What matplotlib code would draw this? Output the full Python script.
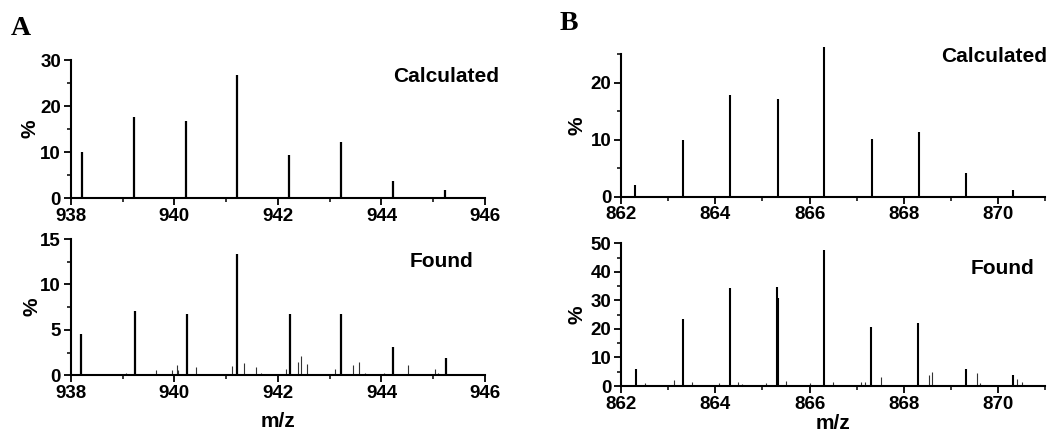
import matplotlib
matplotlib.use('Agg')
import matplotlib.pyplot as plt
from matplotlib.ticker import MultipleLocator

plt.rcParams['font.family'] = ['Liberation Sans', 'DejaVu Sans']
plt.rcParams['font.weight'] = 'bold'

# panel A, calculated isotope pattern
a_calc_mz = [938.21, 939.22, 940.22, 941.22, 942.22, 943.22, 944.23, 945.23]
a_calc_int = [10.0, 17.6, 16.8, 26.7, 9.3, 12.2, 3.8, 1.7]

# panel A, found spectrum (main peaks + small ones)
a_found_mz = [938.19, 939.25, 940.24, 941.22, 942.24, 943.22, 944.23, 945.25]
a_found_int = [4.55, 7.1, 6.75, 13.4, 6.75, 6.75, 3.08, 1.9]
a_minor_mz = [939.06, 939.64, 939.96, 940.06, 940.08, 940.41, 941.11, 941.35,
              941.57, 941.67, 942.15, 942.38, 942.45, 942.56, 942.74, 943.0,
              943.11, 943.45, 943.56, 943.68, 943.78, 944.04, 944.51, 945.03, 945.1]
a_minor_int = [0.3, 0.55, 0.6, 1.1, 0.6, 0.95, 1.0, 1.4,
               0.9, 0.25, 0.7, 1.5, 2.1, 1.2, 0.2, 0.2,
               0.65, 1.15, 1.5, 0.3, 0.2, 0.3, 1.1, 0.7, 0.3]

# panel B, calculated
b_calc_mz = [862.3, 863.3, 864.31, 865.32, 866.31, 867.33, 868.32, 869.33, 870.33]
b_calc_int = [2.05, 9.9, 17.8, 17.1, 26.3, 10.05, 11.3, 4.1, 1.2]

# panel B, found
b_found_mz = [862.32, 863.31, 864.31, 865.31, 865.33, 866.31, 867.31, 868.31, 869.32, 870.32]
b_found_int = [5.8, 23.5, 34.5, 34.7, 31.0, 47.7, 20.8, 22.0, 6.0, 4.0]
b_minor_mz = [862.5, 862.79, 863.03, 863.12, 863.5, 863.8, 864.08, 864.47, 864.56,
              864.7, 864.88, 865.07, 865.17, 865.5, 865.66, 865.8, 866.01, 866.5,
              866.58, 866.8, 867.1, 867.18, 867.52, 867.78, 868.14, 868.53, 868.61,
              869.06, 869.24, 869.56, 869.63, 869.7, 870.28, 870.4, 870.51]
b_minor_int = [1.0, 0.3, 0.5, 2.0, 1.5, 0.3, 1.0, 1.5, 0.8,
               0.3, 0.3, 1.0, 0.5, 1.8, 0.5, 0.4, 1.0, 1.5,
               0.5, 0.3, 1.5, 1.5, 3.0, 0.3, 0.5, 3.8, 4.8,
               0.3, 0.5, 4.5, 1.0, 0.3, 0.5, 2.5, 1.3]

fig = plt.figure(figsize=(10.54, 4.33), dpi=100)

ax_a1 = fig.add_axes([0.0671, 0.5427, 0.3931, 0.3187])
ax_a2 = fig.add_axes([0.0671, 0.1332, 0.3931, 0.3148])
ax_b1 = fig.add_axes([0.5895, 0.5457, 0.4018, 0.3289])
ax_b2 = fig.add_axes([0.5895, 0.1085, 0.4018, 0.3296])


def style(ax, xlim, ylim, ymaj, ymin, xmaj, xmin):
    ax.set_xlim(*xlim)
    ax.set_ylim(*ylim)
    for s in ['top', 'right']:
        ax.spines[s].set_visible(False)
    for s in ['left', 'bottom']:
        ax.spines[s].set_linewidth(1.5)
    ax.xaxis.set_major_locator(MultipleLocator(xmaj))
    ax.xaxis.set_minor_locator(MultipleLocator(xmin))
    ax.yaxis.set_major_locator(MultipleLocator(ymaj))
    ax.yaxis.set_minor_locator(MultipleLocator(ymin))
    ax.tick_params(which='major', direction='out', length=5, width=1.3,
                   labelsize=13.5, pad=2)
    ax.tick_params(which='minor', direction='out', length=3, width=1.1)
    for lab in ax.get_xticklabels() + ax.get_yticklabels():
        lab.set_fontweight('bold')


style(ax_a1, (938, 946), (0, 30), 10, 5, 2, 1)
style(ax_a2, (938, 946), (0, 15), 5, 2.5, 2, 1)
style(ax_b1, (862, 871), (0, 25), 10, 5, 2, 1)
style(ax_b2, (862, 871), (0, 50), 10, 5, 2, 1)

ax_a1.vlines(a_calc_mz, 0, a_calc_int, color='black', lw=1.6)
ax_a2.vlines(a_minor_mz, 0, a_minor_int, color='#333333', lw=0.8)
ax_a2.vlines(a_found_mz, 0, a_found_int, color='black', lw=1.6)
ax_b1.vlines(b_calc_mz, 0, b_calc_int, color='black', lw=1.5, clip_on=False)
ax_b2.vlines(b_minor_mz, 0, b_minor_int, color='#333333', lw=0.8)
ax_b2.vlines(b_found_mz, 0, b_found_int, color='black', lw=1.5)

for ax in [ax_a1, ax_a2, ax_b1, ax_b2]:
    ax.set_ylabel('%', fontsize=15, fontweight='bold')
ax_a1.yaxis.set_label_coords(-0.076, 0.5)
ax_a2.yaxis.set_label_coords(-0.071, 0.5)
ax_b1.yaxis.set_label_coords(-0.082, 0.5)
ax_b2.yaxis.set_label_coords(-0.082, 0.5)

ax_a2.set_xlabel('m/z', fontsize=15, fontweight='bold')
ax_a2.xaxis.set_label_coords(0.5, -0.27)
ax_b2.set_xlabel('m/z', fontsize=15, fontweight='bold')
ax_b2.xaxis.set_label_coords(0.5, -0.195)

fig.text(0.4734, 0.8222, 'Calculated', ha='right', va='center', fontsize=15, fontweight='bold')
fig.text(0.4488, 0.395, 'Found', ha='right', va='center', fontsize=15, fontweight='bold')
fig.text(0.9934, 0.8684, 'Calculated', ha='right', va='center', fontsize=15, fontweight='bold')
fig.text(0.981, 0.381, 'Found', ha='right', va='center', fontsize=15, fontweight='bold')

fig.text(0.0104, 0.935, 'A', ha='left', va='center', fontsize=20, fontweight='bold',
         family='Liberation Serif')
fig.text(0.531, 0.945, 'B', ha='left', va='center', fontsize=20, fontweight='bold',
         family='Liberation Serif')

fig.savefig('out.png', dpi=100)
